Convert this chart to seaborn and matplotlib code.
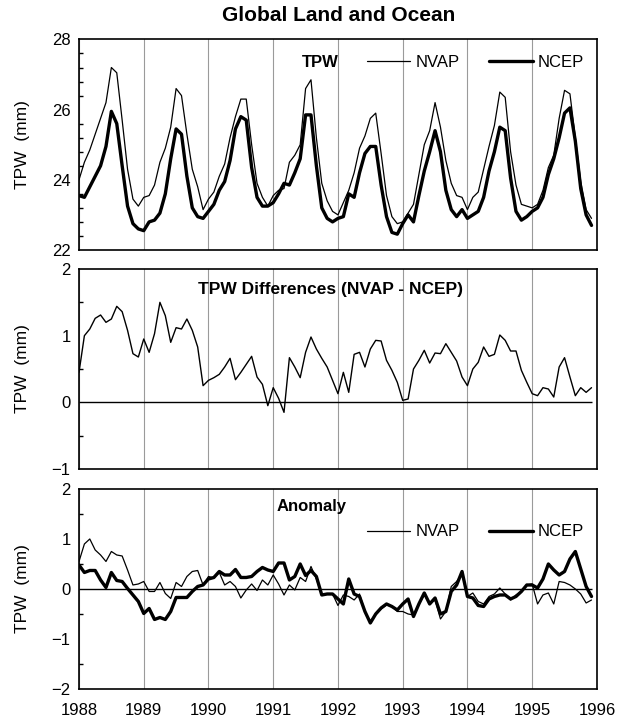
import numpy as np
import pandas as pd
import seaborn as sns
import matplotlib.pyplot as plt
from matplotlib.ticker import MultipleLocator

# monthly values Jan 1988 .. Dec 1995
years = 1988 + np.arange(96) / 12

nvap_tpw = [
    24.0, 24.5, 24.85, 25.3, 25.75, 26.2, 27.2, 27.05, 25.7, 24.3, 23.45, 23.25,
    23.5, 23.55, 23.85, 24.5, 24.9, 25.5, 26.6, 26.4, 25.3, 24.3, 23.8, 23.15,
    23.45, 23.65, 24.1, 24.45, 25.2, 25.8, 26.3, 26.3, 25.0, 23.9, 23.5, 23.25,
    23.55, 23.7, 23.75, 24.5, 24.7, 25.0, 26.6, 26.85, 25.2, 23.9, 23.4, 23.1,
    23.0, 23.35, 23.7, 24.2, 24.9, 25.25, 25.75, 25.9, 24.75, 23.55, 22.95, 22.75,
    22.8, 23.05, 23.3, 24.15, 25.0, 25.4, 26.2, 25.5, 24.55, 23.9, 23.55, 23.5,
    23.15, 23.5, 23.65, 24.3, 24.95, 25.55, 26.5, 26.35, 24.8, 23.85, 23.3, 23.25,
    23.2, 23.3, 23.7, 24.35, 24.7, 25.75, 26.55, 26.45, 25.2, 23.95, 23.15, 22.9,
]
ncep_tpw = [
    23.55, 23.5, 23.8, 24.1, 24.4, 24.95, 25.95, 25.6, 24.4, 23.25, 22.75, 22.6,
    22.55, 22.8, 22.85, 23.05, 23.6, 24.6, 25.45, 25.3, 24.1, 23.2, 22.95, 22.9,
    23.1, 23.3, 23.7, 23.95, 24.55, 25.45, 25.8, 25.7, 24.35, 23.5, 23.25, 23.25,
    23.35, 23.6, 23.9, 23.85, 24.2, 24.6, 25.85, 25.85, 24.4, 23.2, 22.9, 22.8,
    22.9, 22.95, 23.6, 23.5, 24.2, 24.75, 24.95, 24.95, 23.85, 22.95, 22.5, 22.45,
    22.75, 23.0, 22.8, 23.55, 24.25, 24.8, 25.4, 24.8, 23.7, 23.15, 22.95, 23.15,
    22.9, 23.0, 23.1, 23.5, 24.25, 24.8, 25.5, 25.4, 24.05, 23.1, 22.85, 22.95,
    23.1, 23.2, 23.5, 24.15, 24.6, 25.2, 25.9, 26.05, 25.1, 23.75, 23.0, 22.7,
]
tpw_diff = [
    0.45, 1.0, 1.1, 1.26, 1.31, 1.2, 1.25, 1.44, 1.36, 1.08, 0.73, 0.68,
    0.95, 0.75, 1.03, 1.5, 1.3, 0.9, 1.12, 1.1, 1.25, 1.08, 0.83, 0.25,
    0.33, 0.37, 0.42, 0.53, 0.66, 0.34, 0.45, 0.57, 0.69, 0.38, 0.27, -0.05,
    0.22, 0.06, -0.15, 0.67, 0.53, 0.37, 0.75, 0.98, 0.8, 0.66, 0.53, 0.33,
    0.13, 0.45, 0.15, 0.72, 0.75, 0.53, 0.8, 0.93, 0.92, 0.63, 0.48, 0.3,
    0.03, 0.05, 0.5, 0.63, 0.78, 0.59, 0.74, 0.73, 0.88, 0.75, 0.62, 0.38,
    0.25, 0.5, 0.6, 0.83, 0.69, 0.72, 1.01, 0.93, 0.77, 0.77, 0.48, 0.3,
    0.13, 0.1, 0.22, 0.2, 0.08, 0.53, 0.67, 0.38, 0.1, 0.22, 0.15, 0.22,
]
nvap_anom = [
    0.55, 0.9, 1.0, 0.78, 0.68, 0.55, 0.75, 0.68, 0.66, 0.38, 0.08, 0.1,
    0.15, -0.05, -0.05, 0.13, -0.09, -0.19, 0.13, 0.05, 0.25, 0.35, 0.37, 0.08,
    0.25, 0.22, 0.33, 0.08, 0.15, 0.05, -0.18, -0.02, 0.1, -0.03, 0.18, 0.08,
    0.28, 0.1, -0.12, 0.08, -0.02, 0.23, 0.15, 0.45, 0.2, -0.12, -0.1, -0.1,
    -0.33, -0.12, -0.15, -0.22, -0.1, -0.45, -0.65, -0.5, -0.4, -0.32, -0.35, -0.45,
    -0.45, -0.5, -0.52, -0.3, -0.12, -0.28, -0.22, -0.6, -0.45, 0.05, 0.15, 0.3,
    -0.15, -0.08, -0.25, -0.3, -0.15, -0.1, 0.02, -0.1, -0.22, -0.12, -0.05, 0.08,
    0.1, -0.3, -0.12, -0.08, -0.3, 0.15, 0.13, 0.08, 0.0, -0.1, -0.28, -0.22,
]
ncep_anom = [
    0.48, 0.33, 0.37, 0.37, 0.18, 0.03, 0.33, 0.17, 0.15, 0.01, -0.12, -0.25,
    -0.49, -0.39, -0.61, -0.57, -0.61, -0.45, -0.17, -0.17, -0.17, -0.05, 0.05, 0.08,
    0.2, 0.23, 0.35, 0.28, 0.28, 0.39, 0.23, 0.23, 0.25, 0.35, 0.43, 0.38,
    0.35, 0.52, 0.52, 0.18, 0.25, 0.5, 0.27, 0.37, 0.25, -0.12, -0.1, -0.1,
    -0.2, -0.3, 0.2, -0.1, -0.15, -0.45, -0.68, -0.5, -0.38, -0.3, -0.35, -0.42,
    -0.3, -0.2, -0.55, -0.3, -0.08, -0.3, -0.18, -0.5, -0.45, -0.05, 0.08, 0.35,
    -0.15, -0.18, -0.33, -0.35, -0.2, -0.15, -0.12, -0.12, -0.2, -0.15, -0.05, 0.08,
    0.08, 0.02, 0.2, 0.5, 0.38, 0.28, 0.35, 0.6, 0.75, 0.4, 0.05, -0.15,
]

year_ticks = list(range(1988, 1997))

sns.set_theme(style='white')
plt.rcParams['font.family'] = ['Liberation Sans', 'DejaVu Sans']
plt.rcParams['text.color'] = 'black'
plt.rcParams['axes.labelcolor'] = 'black'
plt.rcParams['xtick.color'] = 'black'
plt.rcParams['ytick.color'] = 'black'

fig = plt.figure(figsize=(6.24, 7.21), dpi=100)
ax1 = fig.add_axes([0.1266, 0.6533, 0.830, 0.292])
ax2 = fig.add_axes([0.1266, 0.3495, 0.830, 0.2774])
ax3 = fig.add_axes([0.1266, 0.0444, 0.830, 0.2774])

# top: TPW
sns.lineplot(x=years, y=nvap_tpw, ax=ax1, color='black', linewidth=0.9, label='NVAP')
sns.lineplot(x=years, y=ncep_tpw, ax=ax1, color='black', linewidth=2.4, label='NCEP')
ax1.set_ylim(22, 28)
ax1.yaxis.set_major_locator(MultipleLocator(2))
ax1.yaxis.set_minor_locator(MultipleLocator(0.4))
ax1.text(0.465, 0.89, 'TPW', transform=ax1.transAxes, ha='center', va='center',
         fontsize=12, fontweight='bold')
ax1.legend(loc='center right', bbox_to_anchor=(0.975, 0.89), ncol=2, frameon=False,
           fontsize=12, handlelength=2.6, handletextpad=0.3, columnspacing=1.8,
           borderaxespad=0, borderpad=0)

# middle: differences
sns.lineplot(x=years, y=tpw_diff, ax=ax2, color='black', linewidth=1.0)
ax2.hlines(0, years[0], years[-1], color='black', linewidth=1.0)
ax2.set_ylim(-1, 2)
ax2.yaxis.set_major_locator(MultipleLocator(1))
ax2.yaxis.set_minor_locator(MultipleLocator(0.5))
ax2.text(0.486, 0.9, 'TPW Differences (NVAP - NCEP)', transform=ax2.transAxes,
         ha='center', va='center', fontsize=12.5, fontweight='bold')

# bottom: anomaly
sns.lineplot(x=years, y=nvap_anom, ax=ax3, color='black', linewidth=0.9, label='NVAP')
sns.lineplot(x=years, y=ncep_anom, ax=ax3, color='black', linewidth=2.4, label='NCEP')
ax3.hlines(0, years[0], years[-1], color='black', linewidth=1.0)
ax3.set_ylim(-2, 2)
ax3.yaxis.set_major_locator(MultipleLocator(1))
ax3.yaxis.set_minor_locator(MultipleLocator(0.5))
ax3.text(0.45, 0.91, 'Anomaly', transform=ax3.transAxes, ha='center', va='center',
         fontsize=12, fontweight='bold')
ax3.legend(loc='center right', bbox_to_anchor=(0.975, 0.785), ncol=2, frameon=False,
           fontsize=12, handlelength=2.6, handletextpad=0.3, columnspacing=1.8,
           borderaxespad=0, borderpad=0)

for ax in (ax1, ax2, ax3):
    ax.set_xlim(1988, 1996)
    ax.set_xticks(year_ticks)
    ax.grid(False)
    ax.xaxis.grid(True, color='#9a9a9a', linewidth=0.8)
    ax.set_axisbelow(True)
    ax.tick_params(axis='both', which='major', direction='inout', length=6, width=1,
                   color='black', labelsize=12, pad=3)
    ax.tick_params(axis='y', which='minor', direction='in', length=3, width=1,
                   color='black', left=True)
    ax.tick_params(axis='x', which='minor', bottom=False)
    ax.set_ylabel('TPW  (mm)', fontsize=12.5)
    ax.yaxis.set_label_coords(-0.095, 0.5)
    ax.set_xlabel('')
    for s in ax.spines.values():
        s.set_color('black')
        s.set_linewidth(1.2)

ax1.tick_params(axis='x', labelbottom=False)
ax2.tick_params(axis='x', labelbottom=False)
ax3.tick_params(axis='x', pad=7)

fig.suptitle('Global Land and Ocean', x=0.542, y=0.979, va='center',
             fontsize=15, fontweight='bold')

fig.savefig('out.png', dpi=100)
